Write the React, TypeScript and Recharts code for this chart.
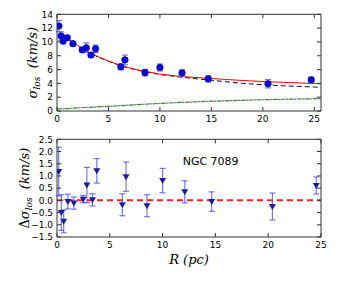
import {
  ComposedChart,
  Scatter,
  Line,
  XAxis,
  YAxis,
  ErrorBar,
  ReferenceLine,
  ReferenceDot,
} from 'recharts';

// observed dispersion profile
const obsR = [0.19, 0.4, 0.6, 1.0, 1.55, 2.45, 2.85, 3.3, 3.75, 6.2, 6.6, 8.55, 10.0, 12.15, 14.7, 20.5, 24.7];
const obsSigma = [12.3, 10.85, 10.15, 10.6, 9.75, 8.85, 9.15, 8.1, 9.0, 6.4, 7.4, 5.55, 6.3, 5.5, 4.65, 3.95, 4.5];
const obsErr = [0.8, 0.6, 0.45, 0.35, 0.3, 0.35, 0.7, 0.3, 0.55, 0.43, 0.7, 0.48, 0.5, 0.48, 0.43, 0.6, 0.4];

// model curves
const modelR = [0.2, 0.5, 1, 1.5, 2, 3, 4, 5, 6, 7, 8, 10, 12, 15, 18, 20, 22, 25, 25.65];
const modelSigma = [11.4, 11.0, 10.5, 10.0, 9.5, 8.6, 7.85, 7.25, 6.7, 6.25, 5.9, 5.35, 5.0, 4.7, 4.42, 4.27, 4.15, 3.98, 3.94];
const dashedSigma = [11.35, 10.95, 10.45, 9.95, 9.45, 8.55, 7.8, 7.2, 6.65, 6.2, 5.85, 5.28, 4.9, 4.45, 4.0, 3.8, 3.65, 3.47, 3.43];
const rotR = [0, 1, 2, 3, 5, 7, 10, 12, 15, 18, 20, 22, 25, 25.65];
const rotSigma = [0.3, 0.35, 0.45, 0.52, 0.68, 0.85, 1.1, 1.24, 1.42, 1.55, 1.63, 1.7, 1.78, 1.8];

// residuals
const resR = [0.16, 0.41, 0.63, 1.03, 1.6, 2.48, 2.83, 3.36, 3.77, 6.19, 6.54, 8.52, 10.0, 12.1, 14.65, 20.4, 24.55];
const resVal = [1.18, -0.5, -0.86, -0.05, -0.11, 0.05, 0.63, 0.02, 1.21, -0.18, 0.97, -0.22, 0.81, 0.35, -0.05, -0.25, 0.61];
const resErr = [1.0, 0.73, 0.47, 0.3, 0.25, 0.15, 0.72, 0.25, 0.5, 0.45, 0.6, 0.45, 0.5, 0.45, 0.4, 0.55, 0.35];

const xTicks = [0, 5, 10, 15, 20, 25];
const topYTicks = [0, 2, 4, 6, 8, 10, 12, 14];
const botYTicks = [-1.5, -1.0, -0.5, 0.0, 0.5, 1.0, 1.5, 2.0, 2.5];

const obsData = obsR.map((x, i) => ({ x, y: obsSigma[i], err: obsErr[i] }));
const resData = resR.map((x, i) => ({ x, y: resVal[i], err: resErr[i] }));
const modelData = modelR.map((x, i) => ({ x, y: modelSigma[i] }));
const dashedData = modelR.map((x, i) => ({ x, y: dashedSigma[i] }));
const rotData = rotR.map((x, i) => ({ x, y: rotSigma[i] }));

const AXIS = '#333';
const TL = 4;
const tickFont = { fontFamily: 'DejaVu Sans', fontSize: 9, fill: '#000' };
const minus = (s: string) => s.replace('-', '\u2212');

const LeftTick = ({ x, y, payload, decimals }: any) => (
  <g>
    <line x1={x + 4} x2={x + 4 + TL} y1={y} y2={y} stroke={AXIS} />
    <text x={x} y={y + 3.3} textAnchor="end" {...tickFont}>
      {minus(decimals ? Number(payload.value).toFixed(decimals) : String(payload.value))}
    </text>
  </g>
);

const BottomTick = ({ x, y, payload }: any) => (
  <g>
    <line x1={x} x2={x} y1={y - 4} y2={y - 4 - TL} stroke={AXIS} />
    <text x={x} y={y + 6.8} textAnchor="middle" {...tickFont}>
      {payload.value}
    </text>
  </g>
);

// top / right spines only carry inward tick marks
const TopTick = ({ x, y }: any) => <line x1={x} x2={x} y1={y} y2={y + TL} stroke={AXIS} />;
const RightTick = ({ x, y }: any) => <line x1={x} x2={x - TL} y1={y} y2={y} stroke={AXIS} />;

const Dot = ({ cx, cy }: any) => <circle cx={cx} cy={cy} r={3.3} fill="#0a0ae0" stroke="#00008b" strokeWidth={0.5} />;
const DownTri = ({ cx, cy }: any) => (
  <path d={`M${cx - 3.5},${cy - 2.5}L${cx + 3.5},${cy - 2.5}L${cx},${cy + 3.5}Z`} fill="#1c1c9c" />
);

const labelFont = { fontFamily: 'DejaVu Serif', fontStyle: 'italic' as const, fontSize: 13, fill: '#000' };

const SigmaLabel = ({ viewBox }: any) => {
  const cx = 37;
  const cy = viewBox ? viewBox.y + viewBox.height / 2 : 62.5;
  return (
    <text x={cx} y={cy} transform={`rotate(-90 ${cx} ${cy})`} textAnchor="middle" {...labelFont} xmlSpace="preserve">
      <tspan>σ</tspan>
      <tspan fontSize={9} dy={3}>los</tspan>
      <tspan dy={-3}>{'  (km/s)'}</tspan>
    </text>
  );
};

const DeltaLabel = ({ viewBox }: any) => {
  const cx = 29;
  const cy = viewBox ? viewBox.y + viewBox.height / 2 : 63;
  return (
    <text x={cx} y={cy} transform={`rotate(-90 ${cx} ${cy})`} textAnchor="middle" {...labelFont} xmlSpace="preserve">
      <tspan fontStyle="normal">Δ</tspan>
      <tspan>σ</tspan>
      <tspan fontSize={9} dy={3}>los</tspan>
      <tspan dy={-3}>{'  (km/s)'}</tspan>
    </text>
  );
};

const RLabel = ({ viewBox }: any) => {
  const cx = viewBox ? viewBox.x + viewBox.width / 2 : 189;
  const cy = viewBox ? viewBox.y + 27 : 139;
  return (
    <text x={cx} y={cy} textAnchor="middle" {...labelFont}>
      R (pc)
    </text>
  );
};

export default function App() {
  return (
    <div style={{ position: 'absolute', left: 0, top: 0, width: 337, height: 281, background: '#fff' }}>
      <div style={{ position: 'absolute', left: 0, top: 0 }}>
        <ComposedChart width={337} height={125} margin={{ top: 13.3, right: 15, left: 0, bottom: 0 }}>
          <XAxis
            dataKey="x"
            type="number"
            domain={[0, 25.65]}
            ticks={xTicks}
            interval={0}
            allowDataOverflow
            height={14}
            tickSize={0}
            tickMargin={4}
            tick={<BottomTick />}
            axisLine={{ stroke: AXIS }}
          />
          <XAxis
            xAxisId="top"
            orientation="top"
            dataKey="x"
            type="number"
            domain={[0, 25.65]}
            ticks={xTicks}
            interval={0}
            allowDataOverflow
            height={1}
            tickSize={0}
            tickMargin={0}
            tick={<TopTick />}
            axisLine={{ stroke: AXIS }}
          />
          <YAxis
            dataKey="y"
            type="number"
            domain={[0, 14]}
            ticks={topYTicks}
            interval={0}
            allowDataOverflow
            width={57}
            tickSize={0}
            tickMargin={4}
            tick={<LeftTick />}
            axisLine={{ stroke: AXIS }}
            label={{ content: (p: any) => <SigmaLabel viewBox={p.viewBox} /> }}
          />
          <YAxis
            yAxisId="right"
            orientation="right"
            dataKey="y"
            type="number"
            domain={[0, 14]}
            ticks={topYTicks}
            interval={0}
            allowDataOverflow
            width={1}
            tickSize={0}
            tickMargin={0}
            tick={<RightTick />}
            axisLine={{ stroke: AXIS }}
          />
          <Line data={rotData} dataKey="y" stroke="#1f9a1f" strokeWidth={1.2} strokeDasharray="5 3" dot={false} activeDot={false} isAnimationActive={false} />
          <Line data={rotData} dataKey="y" stroke="#e020e0" strokeWidth={1.2} strokeDasharray="2 6" strokeDashoffset={-5.5} dot={false} activeDot={false} isAnimationActive={false} />
          <Line data={dashedData} dataKey="y" stroke="#111" strokeWidth={1} strokeDasharray="5 3" dot={false} activeDot={false} isAnimationActive={false} />
          <Line data={modelData} dataKey="y" stroke="#ff0000" strokeWidth={1} dot={false} activeDot={false} isAnimationActive={false} />
          <Scatter data={obsData} dataKey="y" shape={<Dot />} isAnimationActive={false}>
            <ErrorBar dataKey="err" direction="y" width={3} stroke="#7272ff" strokeWidth={1.2} isAnimationActive={false} />
          </Scatter>
        </ComposedChart>
      </div>
      <div style={{ position: 'absolute', left: 0, top: 125 }}>
        <ComposedChart width={337} height={156} margin={{ top: 13.3, right: 15, left: 0, bottom: 0 }}>
          <XAxis
            dataKey="x"
            type="number"
            domain={[0, 25]}
            ticks={xTicks}
            interval={0}
            allowDataOverflow
            height={44}
            tickSize={0}
            tickMargin={4}
            tick={<BottomTick />}
            axisLine={{ stroke: AXIS }}
            label={{ content: (p: any) => <RLabel viewBox={p.viewBox} /> }}
          />
          <XAxis
            xAxisId="top"
            orientation="top"
            dataKey="x"
            type="number"
            domain={[0, 25]}
            ticks={xTicks}
            interval={0}
            allowDataOverflow
            height={1}
            tickSize={0}
            tickMargin={0}
            tick={<TopTick />}
            axisLine={{ stroke: AXIS }}
          />
          <YAxis
            dataKey="y"
            type="number"
            domain={[-1.5, 2.5]}
            ticks={botYTicks}
            interval={0}
            allowDataOverflow
            width={57}
            tickSize={0}
            tickMargin={4}
            tick={<LeftTick decimals={1} />}
            axisLine={{ stroke: AXIS }}
            label={{ content: (p: any) => <DeltaLabel viewBox={p.viewBox} /> }}
          />
          <YAxis
            yAxisId="right"
            orientation="right"
            dataKey="y"
            type="number"
            domain={[-1.5, 2.5]}
            ticks={botYTicks}
            interval={0}
            allowDataOverflow
            width={1}
            tickSize={0}
            tickMargin={0}
            tick={<RightTick />}
            axisLine={{ stroke: AXIS }}
          />
          <ReferenceLine y={0} stroke="#ff2020" strokeWidth={2} strokeDasharray="6 4" />
          <Scatter data={resData} dataKey="y" shape={<DownTri />} isAnimationActive={false}>
            <ErrorBar dataKey="err" direction="y" width={3} stroke="#4848ff" strokeOpacity={0.75} strokeWidth={1.2} isAnimationActive={false} />
          </Scatter>
          <ReferenceDot
            x={11.9}
            y={1.45}
            r={0}
            fill="none"
            stroke="none"
            label={{
              content: (p: any) => (
                <text x={p.viewBox?.x ?? 183} y={p.viewBox?.y ?? 40} fontFamily="DejaVu Sans" fontSize={11} fill="#000">
                  NGC 7089
                </text>
              ),
            }}
          />
        </ComposedChart>
      </div>
    </div>
  );
}
